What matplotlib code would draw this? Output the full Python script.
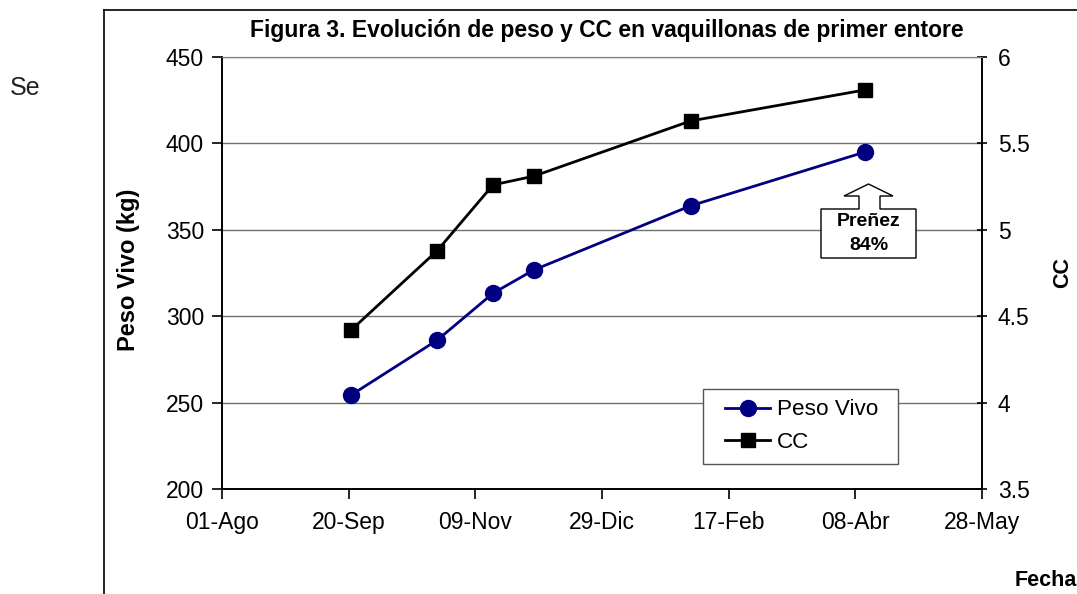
import numpy as np
import matplotlib
matplotlib.use("Agg")
import matplotlib.pyplot as plt
from matplotlib.patches import Polygon, Rectangle
from matplotlib.lines import Line2D

plt.rcParams['font.family'] = ['Liberation Sans', 'DejaVu Sans']

# Datos
fechas = np.array(['2006-09-21', '2006-10-25', '2006-11-16', '2006-12-02',
                   '2007-02-02', '2007-04-12'], dtype='datetime64[D]')
peso_vivo = [254.4, 286.2, 313.3, 326.7, 363.9, 395.1]
cc = [4.42, 4.88, 5.26, 5.31, 5.63, 5.81]

tick_fechas = np.array(['2006-08-01', '2006-09-20', '2006-11-09', '2006-12-29',
                        '2007-02-17', '2007-04-08', '2007-05-28'], dtype='datetime64[D]')
tick_labels = ['01-Ago', '20-Sep', '09-Nov', '29-Dic', '17-Feb', '08-Abr', '28-May']

W, H = 1077, 594


def fx(x):
    return x / W


def fy(y):
    return 1 - y / H


fig = plt.figure(figsize=(W / 100, H / 100), dpi=100)
ax = fig.add_axes([fx(222), fy(489), fx(982) - fx(222), fy(57) - fy(489)])
ax2 = ax.twinx()

# Marco del grafico (borde del area de grafico)
fig.add_artist(Line2D([fx(104), fx(104)], [fy(10), 0], color='k', lw=1.2))
fig.add_artist(Line2D([fx(104), 1], [fy(10), fy(10)], color='k', lw=1.2))

# Texto del documento
fig.text(fx(10), fy(88), 'Se', fontsize=18, color='#222222', va='center', ha='left')

l1, = ax.plot(fechas, peso_vivo, color='#000080', lw=2, marker='o', markersize=11.5,
              label='Peso Vivo', zorder=3)
l2, = ax2.plot(fechas, cc, color='black', lw=2, marker='s', markersize=10,
               label='CC', zorder=3)

ax.set_ylim(200, 450)
ax.set_yticks(np.arange(200, 451, 50))
ax2.set_ylim(3.5, 6)
ax2.set_yticks([3.5, 4, 4.5, 5, 5.5, 6])
ax2.set_yticklabels(['3.5', '4', '4.5', '5', '5.5', '6'])

ax.set_xlim(tick_fechas[0], tick_fechas[-1])
ax.set_xticks(tick_fechas)
ax.set_xticklabels(tick_labels)

ax.grid(axis='y', color='#707070', lw=1)
ax.set_axisbelow(True)

for a in (ax, ax2):
    a.spines['top'].set_color('#808080')
    for s in ('left', 'right', 'bottom'):
        a.spines[s].set_color('black')
        a.spines[s].set_linewidth(1.2)

ax.tick_params(axis='both', labelsize=16.5, length=7, width=1.2, direction='out', pad=6)
ax.tick_params(axis='x', pad=9)
ax2.tick_params(axis='y', labelsize=16.5, length=7, width=1.2, direction='inout', pad=8)

ax.set_ylabel('Peso Vivo (kg)', fontsize=17, fontweight='bold')
ax.yaxis.set_label_coords(fx(140), fy(270), transform=fig.transFigure)
ax2.set_ylabel('CC', fontsize=15.5, fontweight='bold')
ax2.yaxis.set_label_coords(fx(1052), fy(272), transform=fig.transFigure)

fig.text(fx(607), fy(30), 'Figura 3. Evolución de peso y CC en vaquillonas de primer entore',
         fontsize=16.5, fontweight='bold', ha='center', va='center')
fig.text(fx(1077), fy(580), 'Fecha', fontsize=15.5, fontweight='bold', ha='right', va='center')

# Leyenda con marco propio
fig.add_artist(Rectangle((fx(703), fy(464)), fx(898) - fx(703), fy(389) - fy(464),
                         transform=fig.transFigure, facecolor='white', edgecolor='#555555',
                         lw=1, zorder=5))
leg = fig.legend(handles=[l1, l2], loc='center', frameon=False, fontsize=16.2,
                 bbox_to_anchor=(fx(802), fy(426)), handlelength=2.0,
                 handletextpad=0.3, labelspacing=0.5)
leg.set_zorder(6)

# Llamada "Preñez 84%"
pts = [(821, 209), (859, 209), (859, 196), (844, 196), (868.5, 184), (893, 196),
       (880, 196), (880, 209), (916, 209), (916, 258), (821, 258)]
fig.add_artist(Polygon([(fx(x), fy(y)) for x, y in pts], closed=True,
                       transform=fig.transFigure, facecolor='white',
                       edgecolor='black', lw=1, zorder=5))
fig.text(fx(868.5), fy(221), 'Preñez', fontsize=14, fontweight='bold',
         ha='center', va='center', zorder=6)
fig.text(fx(868.5), fy(246), '84%', fontsize=14, fontweight='bold',
         ha='center', va='center', zorder=6)

plt.savefig('out.png', dpi=100)
